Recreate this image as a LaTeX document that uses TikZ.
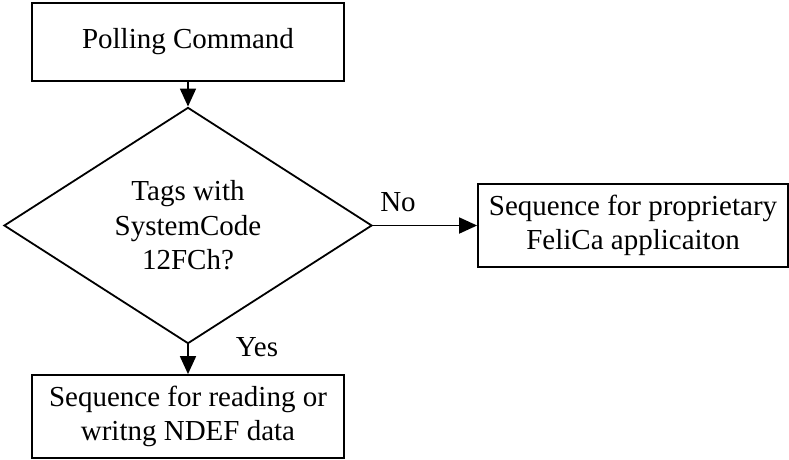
\documentclass[tikz,border=0pt]{standalone}
\usepackage{fontspec}
\setmainfont{Liberation Serif}
\usetikzlibrary{shapes.geometric,arrows.meta}
\begin{document}
\begin{tikzpicture}[x=1pt,y=-1pt,
  every node/.style={font=\fontsize{29}{34.5}\selectfont, align=center, inner sep=0pt},
  procbox/.style={draw, line width=1.8pt, rectangle},
  decision/.style={draw, line width=1.8pt, diamond, minimum width=368pt, minimum height=215pt},
  flow/.style={line width=1.8pt, -{Triangle[length=18pt,width=16pt]}},
  lbl/.style={}]
\useasboundingbox (0,0) rectangle (789,459);
\node[procbox, minimum width=312pt, minimum height=78pt] (poll) at (188,42) {Polling Command};
\node[decision] (dec) at (188,225.5) {Tags with\\SystemCode\\12FCh?};
\node[procbox, minimum width=310pt, minimum height=83pt] (prop) at (633,225.5) {Sequence for proprietary\\FeliCa applicaiton};
\node[procbox, minimum width=312pt, minimum height=83pt] (ndef) at (188,416.5) {Sequence for reading or\\writng NDEF data};
\draw[flow] (poll) -- (dec);
\draw[flow] (dec) -- (prop);
\draw[flow] (dec) -- (ndef);
\node[lbl] (no) at (398,202) {No};
\node[lbl] (yes) at (257,347) {Yes};
\end{tikzpicture}
\end{document}
